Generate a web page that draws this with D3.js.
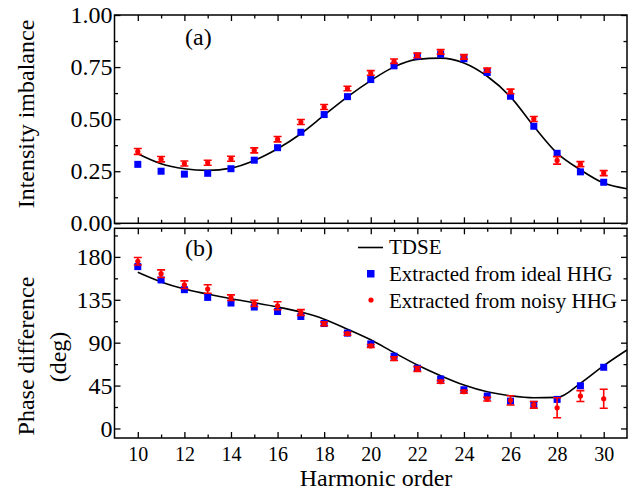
<!DOCTYPE html>
<html>
<head>
<meta charset="utf-8">
<script src="https://cdn.jsdelivr.net/npm/d3@7"></script>
<style>
    body { margin: 0; background: #fff; font-family: "Liberation Serif"; }
    svg { display: block; }
    svg text { font-family: "Liberation Serif" !important; }
</style>
</head>
<body>
<div id="chart"></div>
<script>
// harmonic orders
let orders = [10, 11, 12, 13, 14, 15, 16, 17, 18, 19, 20, 21, 22, 23, 24, 25, 26, 27, 28, 29, 30];
let tdseOrders = [10, 11, 12, 13, 14, 15, 16, 17, 18, 19, 20, 21, 22, 23, 24, 25, 26, 27, 28, 29, 30, 31];
let xTicks = [10, 12, 14, 16, 18, 20, 22, 24, 26, 28, 30];

// (a) intensity imbalance
let imbTdse = [0.334, 0.286, 0.262, 0.254, 0.265, 0.302, 0.358, 0.43, 0.519, 0.607, 0.685,
    0.751, 0.787, 0.793, 0.77, 0.706, 0.607, 0.466, 0.337, 0.257, 0.193, 0.166];
let imbIdeal = [0.283, 0.25, 0.236, 0.24, 0.262, 0.303, 0.363, 0.437, 0.522, 0.608, 0.69,
    0.756, 0.803, 0.812, 0.79, 0.724, 0.61, 0.466, 0.336, 0.247, 0.197];
let imbNoisy = [0.345, 0.308, 0.287, 0.291, 0.31, 0.35, 0.404, 0.486, 0.558, 0.647, 0.722,
    0.778, 0.806, 0.823, 0.799, 0.735, 0.633, 0.501, 0.302, 0.284, 0.241];
let imbNoisyErr = [0.014, 0.013, 0.012, 0.012, 0.012, 0.012, 0.013, 0.012, 0.012, 0.011, 0.011,
    0.011, 0.011, 0.011, 0.011, 0.01, 0.011, 0.012, 0.018, 0.012, 0.012];
let imbTicks = [0, 0.25, 0.5, 0.75, 1];
let imbMinor = [0.125, 0.375, 0.625, 0.875];

// (b) phase difference (deg)
let phaseTdse = [163.8, 153.7, 146.3, 141, 136.1, 131.9, 127.4, 122.1, 114.7, 104.2, 93,
    79.6, 66.6, 55.4, 45.6, 38.5, 34.3, 32.2, 32.6, 47.4, 65.9, 82.4];
let phaseIdeal = [169.8, 155.8, 145.6, 137.5, 131.6, 127.4, 122.7, 117.5, 110.1, 100, 88.7,
    75.8, 63.2, 51.9, 40.6, 34, 28.7, 25.3, 30.5, 44.8, 64.2];
let phaseNoisy = [175.4, 162.4, 150.8, 146.3, 137.2, 131.2, 128.7, 121.7, 109.8, 99.3, 86.6,
    73.3, 62.4, 49, 38.5, 30.8, 29.5, 24.8, 21.7, 34, 31.2];
let phaseNoisyErr = [3.9, 4, 4, 4.5, 3, 3.3, 4.2, 3, 2, 1.5, 1.5,
    2, 2.5, 1.5, 1.5, 2, 4.9, 3.5, 10.5, 5.7, 10];
let phaseTicks = [0, 45, 90, 135, 180];
let phaseMinor = [22.5, 67.5, 112.5, 157.5, 202.5];

let legendLabels = ["TDSE", "Extracted from ideal HHG", "Extracted from noisy HHG"];

const W = 642, H = 496;
const left = 114.5, right = 627;
const blue = "#0000ff", red = "#ff0000";
const serif = "Liberation Serif";

let svg = d3.select("#chart").append("svg")
    .attr("width", W)
    .attr("height", H)
    .attr("font-family", serif);

let x = d3.scaleLinear().domain([9, 31]).range([left, right]);
let xMinor = orders.filter(d => d % 2 === 1);

function drawPanel(top, bottom, domain, ticks, minor, fmt, tdse, ideal, noisy, err, label, labelY) {
    let y = d3.scaleLinear().domain(domain).range([bottom, top]);
    let g = svg.append("g");

    // inward ticks on all four sides
    let axes = [
        [d3.axisBottom(x).tickValues(xTicks), d3.axisBottom(x).tickValues(xMinor), `translate(0,${bottom})`],
        [d3.axisTop(x).tickValues(xTicks), d3.axisTop(x).tickValues(xMinor), `translate(0,${top})`],
        [d3.axisLeft(y).tickValues(ticks), d3.axisLeft(y).tickValues(minor), `translate(${left},0)`],
        [d3.axisRight(y).tickValues(ticks), d3.axisRight(y).tickValues(minor), `translate(${right},0)`]
    ];
    axes.forEach(([major, mnr, tr]) => {
        g.append("g").attr("transform", tr)
            .call(major.tickSize(-6).tickFormat("").tickSizeOuter(0))
            .call(a => a.select(".domain").remove());
        g.append("g").attr("transform", tr)
            .call(mnr.tickSize(-3.5).tickFormat("").tickSizeOuter(0))
            .call(a => a.select(".domain").remove());
    });
    g.selectAll(".tick line").attr("stroke", "#000").attr("stroke-width", 1.3);

    // y tick labels
    g.append("g").attr("transform", `translate(${left},0)`)
        .call(d3.axisLeft(y).tickValues(ticks).tickSize(0).tickPadding(2).tickFormat(fmt))
        .call(a => a.select(".domain").remove())
        .attr("font-family", serif)
        .attr("font-size", 24);

    // frame
    g.append("rect")
        .attr("x", left).attr("y", top)
        .attr("width", right - left).attr("height", bottom - top)
        .attr("fill", "none").attr("stroke", "#000").attr("stroke-width", 1.5);

    // TDSE
    let line = d3.line()
        .x((d, i) => x(tdseOrders[i]))
        .y(d => y(d))
        .curve(d3.curveMonotoneX);
    g.append("path")
        .datum(tdse)
        .attr("d", line)
        .attr("fill", "none")
        .attr("stroke", "#000")
        .attr("stroke-width", 1.6);

    // ideal
    g.selectAll(".ideal")
        .data(ideal)
        .enter().append("rect")
        .attr("class", "ideal")
        .attr("x", (d, i) => x(orders[i]) - 3.5)
        .attr("y", d => y(d) - 3.5)
        .attr("width", 7).attr("height", 7)
        .attr("fill", blue);

    // noisy with error bars
    let eb = g.selectAll(".noisy")
        .data(noisy)
        .enter().append("g")
        .attr("class", "noisy");
    eb.append("path")
        .attr("d", (d, i) => {
            let cx = x(orders[i]), y0 = y(d - err[i]), y1 = y(d + err[i]);
            return `M${cx},${y0}V${y1}M${cx - 4},${y0}H${cx + 4}M${cx - 4},${y1}H${cx + 4}`;
        })
        .attr("fill", "none")
        .attr("stroke", red)
        .attr("stroke-width", 1.6);
    eb.append("circle")
        .attr("cx", (d, i) => x(orders[i]))
        .attr("cy", d => y(d))
        .attr("r", 2.6)
        .attr("fill", red);

    g.append("text")
        .attr("x", 185).attr("y", labelY)
        .attr("font-size", 24)
        .text(label);

    return y;
}

drawPanel(15, 223.3, [0, 1], imbTicks, imbMinor, d3.format(".2f"),
    imbTdse, imbIdeal, imbNoisy, imbNoisyErr, "(a)", 45);
drawPanel(228.3, 438, [-10, 210], phaseTicks, phaseMinor, d3.format("d"),
    phaseTdse, phaseIdeal, phaseNoisy, phaseNoisyErr, "(b)", 256);

// x tick labels
svg.append("g").attr("transform", "translate(0,438)")
    .call(d3.axisBottom(x).tickValues(xTicks).tickSize(0).tickPadding(9))
    .call(a => a.select(".domain").remove())
    .attr("font-family", serif)
    .attr("font-size", 20);

// axis titles
function title(txt, tr, size) {
    svg.append("text")
        .attr("transform", tr)
        .attr("text-anchor", "middle")
        .attr("font-size", size)
        .text(txt);
}
title("Harmonic order", "translate(376,486)", 24);
title("Intensity imbalance", "translate(34,114) rotate(-90)", 24);
title("Phase difference", "translate(34,356) rotate(-90)", 24);
title("(deg)", "translate(66,357) rotate(-90)", 24);

// legend
let lg = svg.append("g");
lg.append("line")
    .attr("x1", 358).attr("x2", 383)
    .attr("y1", 247.5).attr("y2", 247.5)
    .attr("stroke", "#000").attr("stroke-width", 1.6);
lg.append("rect")
    .attr("x", 367).attr("y", 270).attr("width", 7.5).attr("height", 7.5)
    .attr("fill", blue);
lg.append("circle")
    .attr("cx", 371).attr("cy", 300).attr("r", 2.6)
    .attr("fill", red);
lg.selectAll(".lt")
    .data(legendLabels)
    .enter().append("text")
    .attr("class", "lt")
    .attr("x", 389)
    .attr("y", (d, i) => [254, 281, 308][i])
    .attr("font-size", 21)
    .text(d => d);
</script>
</body>
</html>
